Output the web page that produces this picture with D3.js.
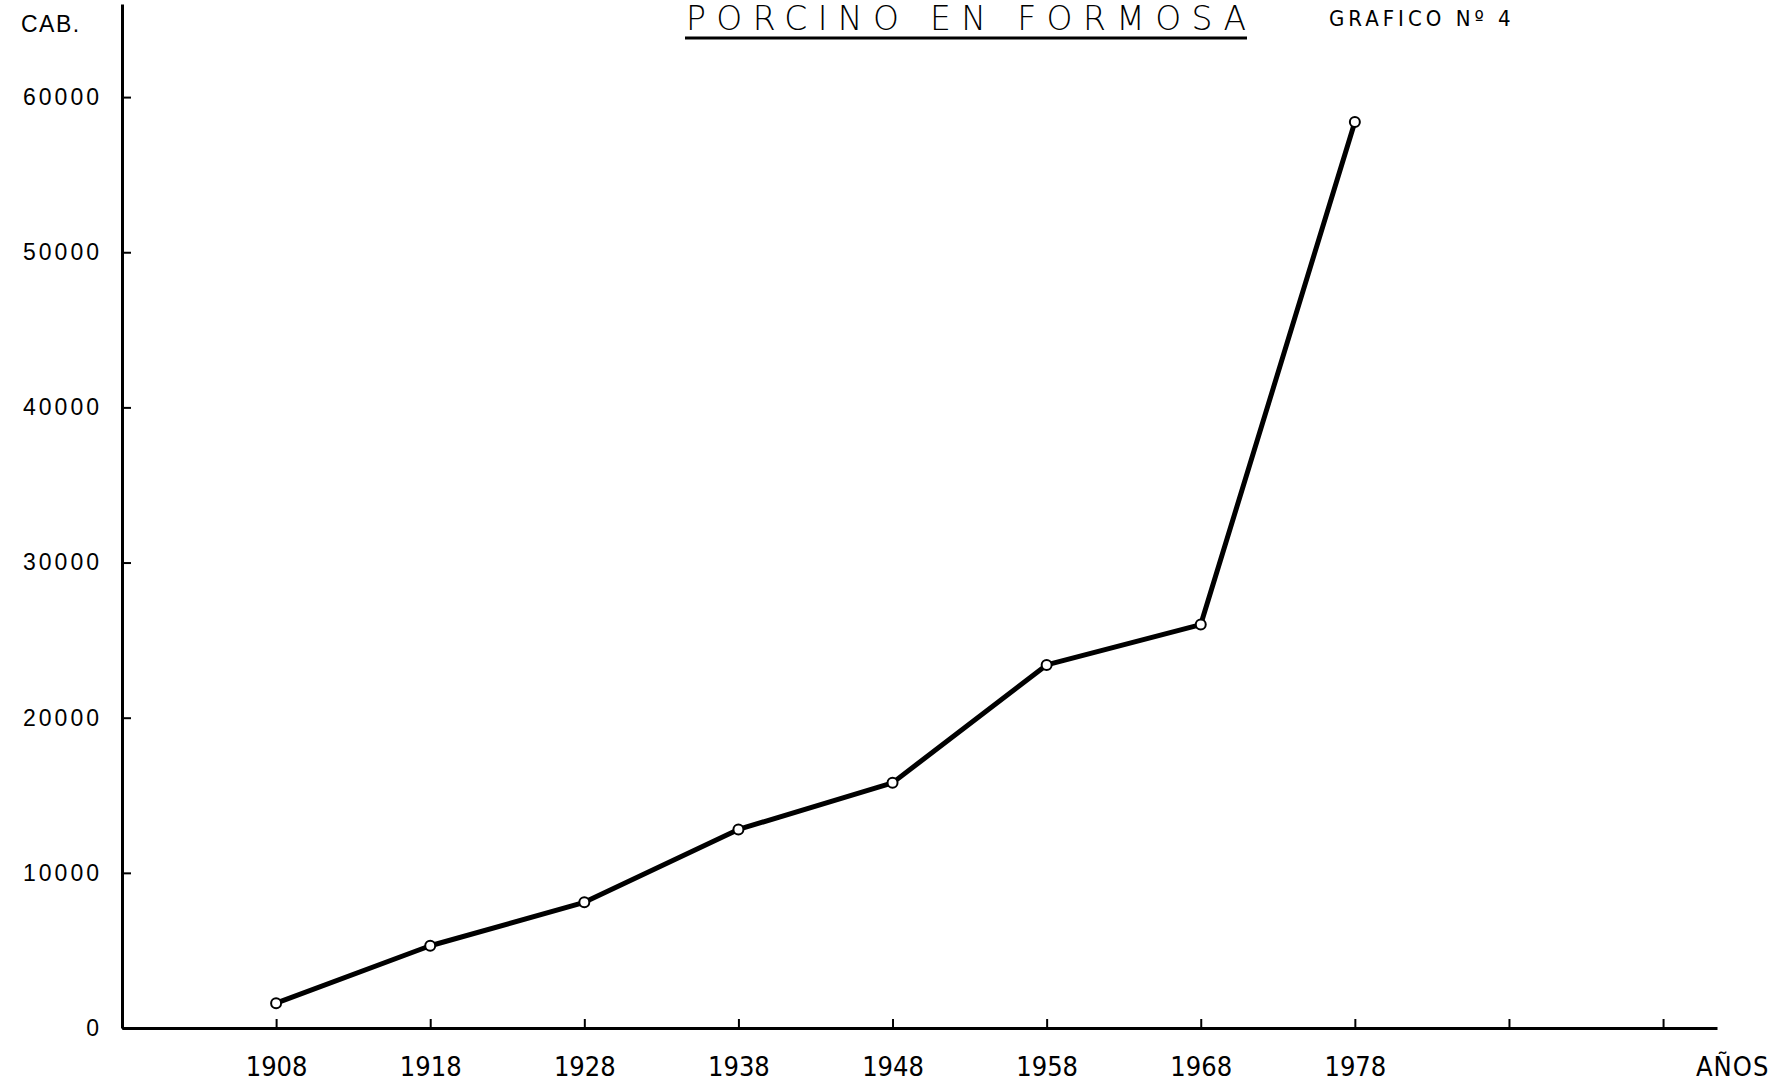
<!DOCTYPE html>
<html>
<head>
<meta charset="utf-8">
<script src="https://cdn.jsdelivr.net/npm/d3@7"></script>
<style>
  html, body { margin: 0; padding: 0; background: #fff; }
  svg { display: block; }
</style>
</head>
<body>
<svg></svg>
<script>
// data (head of pigs, Formosa)
const years = [1908, 1918, 1928, 1938, 1948, 1958, 1968, 1978];
const heads = [1600, 5300, 8100, 12800, 15800, 23400, 26000, 58400];
const xTicks = [1908, 1918, 1928, 1938, 1948, 1958, 1968, 1978, 1988, 1998];
const xLabels = ["1908", "1918", "1928", "1938", "1948", "1958", "1968", "1978"];
const yTicks = [0, 10000, 20000, 30000, 40000, 50000, 60000];
const yLabels = ["0", "10000", "20000", "30000", "40000", "50000", "60000"];

(function (d3) {
    const width = 1781;
    const height = 1081;

    const svg = d3.select('svg');
    svg.attr('width', width).attr('height', height);

    const x = d3.scaleLinear().domain([1898, 2001.5]).range([122, 1717]);
    const y = d3.scaleLinear().domain([0, 66000]).range([1028, 4]);

    // ==================================================
    // axes

    const xAxis = d3.axisBottom(x)
          .tickValues(xTicks)
          .tickSizeInner(-9)
          .tickSizeOuter(0)
          .tickPadding(29)
          .tickFormat(d => {
              const i = xTicks.indexOf(d);
              return i < xLabels.length ? xLabels[i] : "";
          });

    const yAxis = d3.axisLeft(y)
          .tickValues(yTicks)
          .tickSizeInner(-9)
          .tickSizeOuter(0)
          .tickPadding(20)
          .tickFormat(d => yLabels[yTicks.indexOf(d)]);

    const gx = svg.append('g')
          .attr('transform', `translate(0,${y(0)})`)
          .call(xAxis);
    gx.select('.domain').attr('stroke-width', 3);
    gx.selectAll('.tick line').attr('stroke-width', 2);
    gx.selectAll('text')
        .attr('fill', '#000')
        .style('font-family', '"Liberation Sans Narrow", "DejaVu Sans Condensed", sans-serif')
        .style('font-size', '27px');

    const gy = svg.append('g')
          .attr('transform', `translate(${x(1898)},0)`)
          .call(yAxis);
    gy.select('.domain').attr('stroke-width', 3);
    gy.selectAll('.tick line').attr('stroke-width', 2);
    gy.selectAll('text')
        .attr('fill', '#000')
        .style('font-family', '"Liberation Sans", sans-serif')
        .style('font-size', '23px')
        .style('letter-spacing', '3px');

    // ==================================================
    // texts

    svg.append('text')
        .attr('x', 21).attr('y', 32)
        .style('font-family', '"Liberation Sans", sans-serif')
        .style('font-size', '23px')
        .style('letter-spacing', '1.5px')
        .text('CAB.');

    svg.append('text')
        .attr('x', 1696).attr('y', 1076)
        .style('font-family', '"Liberation Sans Narrow", "DejaVu Sans Condensed", sans-serif')
        .style('font-size', '27px')
        .style('letter-spacing', '1px')
        .text('AÑOS');

    svg.append('text')
        .attr('x', 686).attr('y', 30)
        .attr('textLength', 560)
        .attr('lengthAdjust', 'spacing')
        .style('font-family', '"DejaVu Sans", sans-serif')
        .style('font-weight', 200)
        .style('font-size', '33px')
        .text('PORCINO   EN   FORMOSA');

    svg.append('line')
        .attr('x1', 685).attr('x2', 1247)
        .attr('y1', 38).attr('y2', 38)
        .attr('stroke', '#000')
        .attr('stroke-width', 3);

    svg.append('text')
        .attr('x', 1329).attr('y', 26)
        .style('font-family', '"Liberation Sans Narrow", "DejaVu Sans Condensed", sans-serif')
        .style('font-size', '22px')
        .style('letter-spacing', '4px')
        .text('GRAFICO Nº 4');

    // ==================================================
    // series

    const pts = years.map((yr, i) => ({year: yr, value: heads[i]}));

    const line = d3.line()
          .x(d => x(d.year))
          .y(d => y(d.value));

    svg.append('path')
        .datum(pts)
        .attr('d', line)
        .attr('fill', 'none')
        .attr('stroke', '#000')
        .attr('stroke-width', 5)
        .attr('stroke-linejoin', 'round');

    svg.selectAll('circle')
        .data(pts)
        .enter()
        .append('circle')
        .attr('cx', d => x(d.year))
        .attr('cy', d => y(d.value))
        .attr('r', 5)
        .attr('fill', '#fff')
        .attr('stroke', '#000')
        .attr('stroke-width', 2);
})(d3);
</script>
</body>
</html>
